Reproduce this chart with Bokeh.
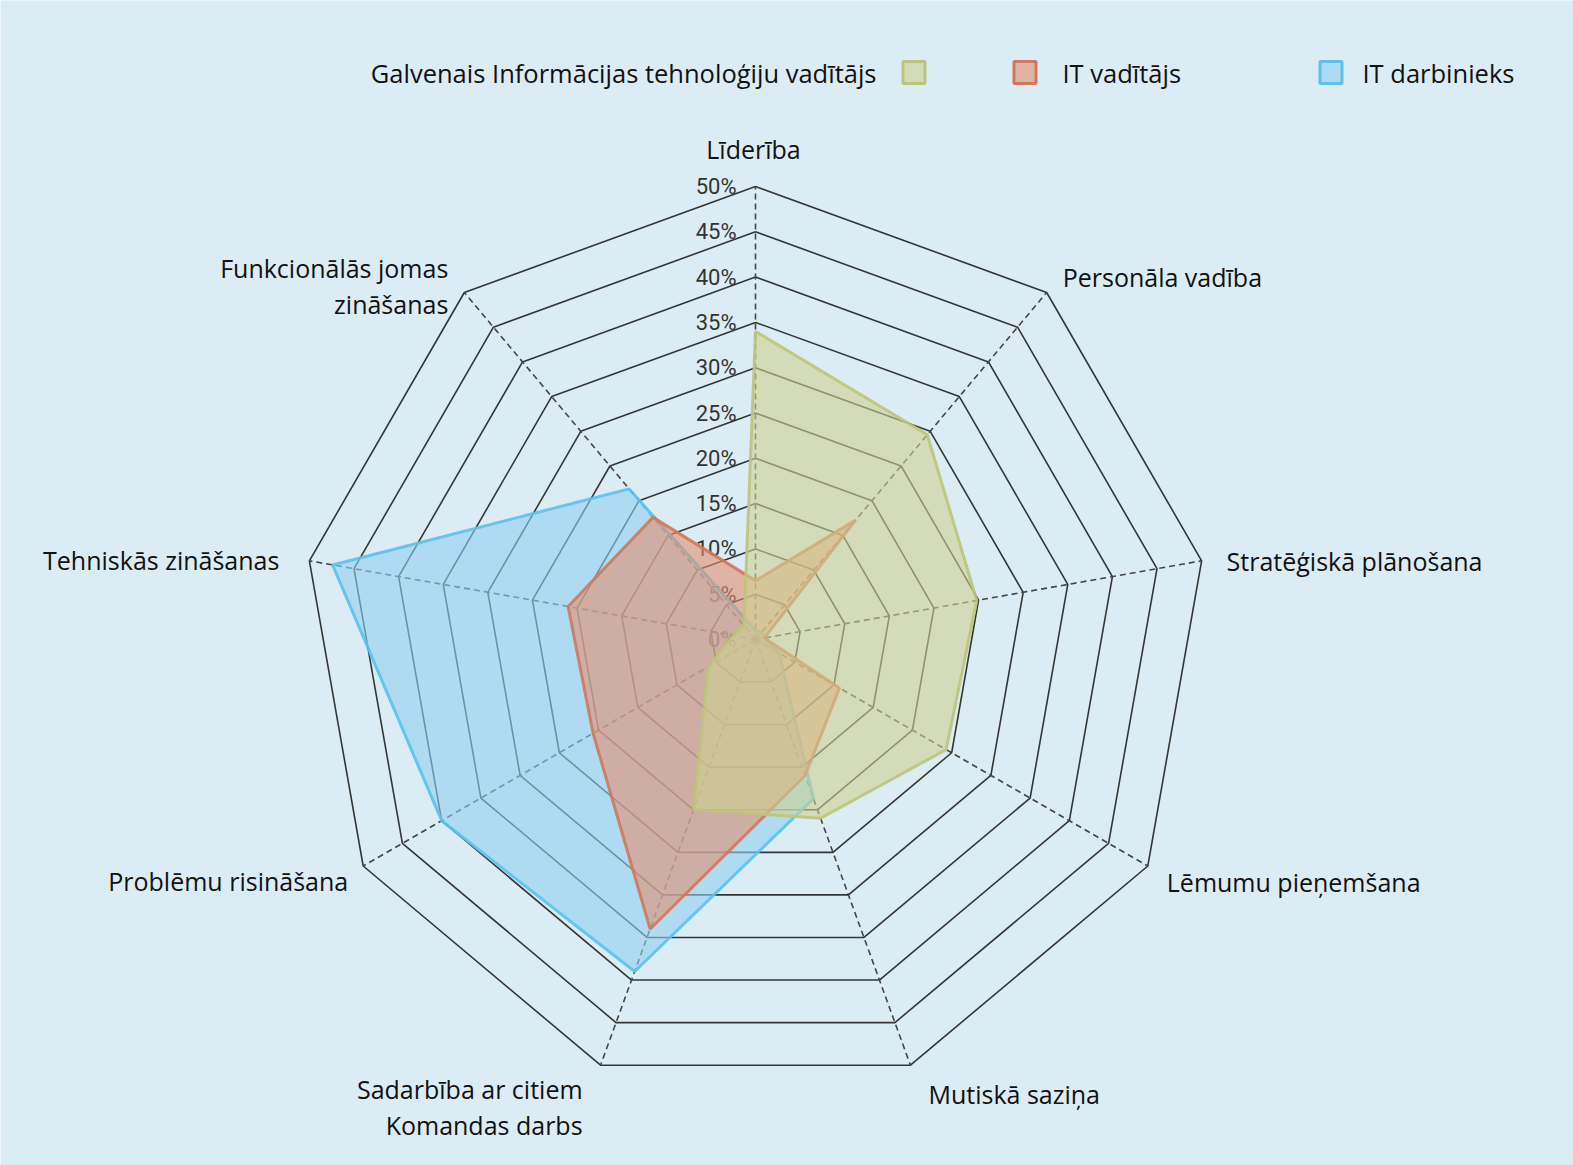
import numpy as np
from bokeh.plotting import figure
from bokeh.models import Range1d
from bokeh.core.properties import value
from bokeh.embed import file_html
from bokeh.resources import INLINE

# ---------------- data ----------------
categories = [
    "Līderība",
    "Personāla vadība",
    "Stratēģiskā plānošana",
    "Lēmumu pieņemšana",
    "Mutiskā saziņa",
    "Sadarbība ar citiem\nKomandas darbs",
    "Problēmu risināšana",
    "Tehniskās zināšanas",
    "Funkcionālās jomas\nzināšanas",
]
series_names = ["Galvenais Informācijas tehnoloģiju vadītājs", "IT vadītājs", "IT darbinieks"]
cio = [34, 29.5, 24.8, 24.3, 21, 20, 6, 2.5, 2]
it_manager = [6.5, 17.2, 1, 10.7, 16, 34, 20.7, 21, 17.6]
it_staff = [1, 1, 1, 3, 18.7, 39, 40, 47.4, 21.7]
tick_values = [0, 5, 10, 15, 20, 25, 30, 35, 40, 45, 50]
tick_labels = ["0%", "5%", "10%", "15%", "20%", "25%", "30%", "35%", "40%", "45%", "50%"]

# ---------------- layout ----------------
W, H = 1573, 1165
OX, OY = 0, 0       # page offset of the figure
K = 9.06            # px per percent
CX, CY = 755, 639   # centre in page px
BG = "#dcecf5"
RMAX = 50

fill_cols = ["#cdd191", "#e38f6e", "#8fd0f0"]
line_cols = ["#bcc47a", "#d0785a", "#5bc2ec"]

p = figure(width=W, height=H, output_backend="svg", toolbar_location=None,
           x_axis_location=None, y_axis_location=None,
           x_range=Range1d((OX - CX) / K, (OX + W - CX) / K),
           y_range=Range1d((CY - OY - H) / K, (CY - OY) / K),
           background_fill_color=BG, border_fill_color=BG,
           outline_line_color=None, min_border=0)
p.grid.visible = False

n = len(categories)
ang = np.deg2rad(90 - 360.0 / n * np.arange(n))
ca, sa = np.cos(ang), np.sin(ang)

# rings
ring_xs, ring_ys = [], []
for r in tick_values[1:]:
    ring_xs.append(list(np.append(r * ca, r * ca[0])))
    ring_ys.append(list(np.append(r * sa, r * sa[0])))
p.multi_line(ring_xs, ring_ys, line_color="#353535", line_width=1.6)

# spokes
p.segment(x0=[0] * n, y0=[0] * n, x1=list(RMAX * ca), y1=list(RMAX * sa),
          line_color="#454545", line_width=1.6, line_dash="6 4")

# tick labels
p.text(x=[-19 / K] * len(tick_values), y=tick_values, text=tick_labels,
       text_align="right", text_baseline="middle",
       text_font=value("Roboto"), text_font_size="22px", text_color="#333333")

# series polygons (blue first, then red, then green)
series = [cio, it_manager, it_staff]
for idx in [2, 1, 0]:
    v = np.array(series[idx], dtype=float)
    p.patch(list(v * ca), list(v * sa), fill_color=fill_cols[idx], fill_alpha=0.6,
            line_color=line_cols[idx], line_width=3, line_alpha=0.9)

# category labels
FS = "25px"
offsets = [(-2, -38), (16, -15), (25, 0), (19, 15.5), (18, 29),
           (-18, 24), (-15, 14.5), (-30, -1), (-16, -24)]
aligns = ["center", "left", "left", "left", "left", "right", "right", "right", "right"]
LINE_H = 36
groups = {"center": ([], [], []), "left": ([], [], []), "right": ([], [], [])}
for i, cat in enumerate(categories):
    vx, vy = RMAX * ca[i], RMAX * sa[i]
    dx, dy = offsets[i]
    for j, line in enumerate(cat.split("\n")):
        gx, gy, gt = groups[aligns[i]]
        gx.append(vx + dx / K)
        gy.append(vy - (dy + j * LINE_H) / K)
        gt.append(line)
for al, (gx, gy, gt) in groups.items():
    if gt:
        p.text(x=gx, y=gy, text=gt, text_align=al, text_baseline="middle",
               text_font=value("Open Sans"), text_font_size=FS, text_color="#111111")

# legend
LY = (CY - 72) / K
sq_x = [(913.5 - CX) / K, (1024.5 - CX) / K, (1330.5 - CX) / K]
p.scatter(x=sq_x, y=[LY] * 3, marker="square", size=22,
          fill_color=fill_cols, fill_alpha=0.6, line_color=line_cols, line_width=3)
p.text(x=[(876 - CX) / K], y=[LY], text=[series_names[0]], text_align="right",
       text_baseline="middle", text_font=value("Open Sans"), text_font_size="25.5px",
       text_color="#111111")
p.text(x=[(1062 - CX) / K, (1362 - CX) / K], y=[LY, LY], text=series_names[1:],
       text_align="left", text_baseline="middle", text_font=value("Open Sans"),
       text_font_size="25.5px", text_color="#111111")

open("out.html", "w").write(file_html(p, INLINE))
